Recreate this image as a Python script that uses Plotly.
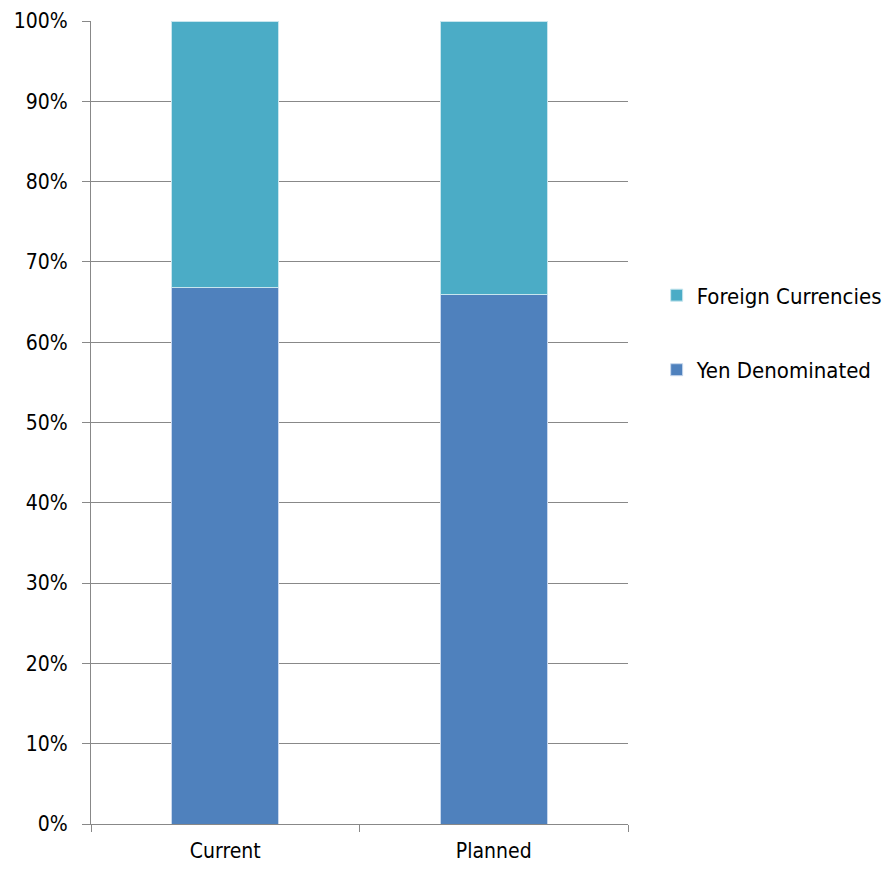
import plotly.graph_objects as go

categories = ["Current", "Planned"]
yen_denominated = [0.668, 0.660]
foreign_currencies = [0.332, 0.340]
y_ticks = [i / 10 for i in range(11)]
y_tick_labels = [f"{i * 10}%" for i in range(11)]

FONT = "DejaVu Sans Condensed, Liberation Sans Narrow, Arial Narrow, sans-serif"

fig = go.Figure()
fig.add_trace(go.Bar(
    x=categories, y=yen_denominated, name="Yen Denominated",
    marker=dict(color="#4F81BD", line=dict(color="#C8D8EE", width=1)),
    legendgroup="yen", legendrank=2, width=0.4,
))
fig.add_trace(go.Bar(
    x=categories, y=foreign_currencies, name="Foreign Currencies",
    marker=dict(color="#4BACC6", line=dict(color="#C8E6EE", width=1)),
    legendgroup="foreign", legendrank=1, width=0.4,
))

fig.update_layout(
    barmode="stack",
    width=885, height=869,
    margin=dict(l=91, r=257, t=21, b=45),
    plot_bgcolor="white", paper_bgcolor="white",
    font=dict(family=FONT, size=21, color="#000000"),
    showlegend=True,
    legend=dict(
        xref="container", yref="container",
        x=0.742, xanchor="left", y=0.617, yanchor="middle",
        traceorder="grouped", tracegroupgap=43,
        font=dict(family=FONT, size=22, color="#000000"),
        itemwidth=30,
    ),
    xaxis=dict(
        type="category", tickson="boundaries", ticks="outside", ticklen=7,
        tickcolor="#888888", showline=True, linecolor="#888888", linewidth=1,
        showgrid=False, tickfont=dict(family=FONT, size=21), automargin=False,
        ticklabelstandoff=8,
    ),
    yaxis=dict(
        range=[0, 1], tickvals=y_ticks, ticktext=y_tick_labels,
        ticks="outside", ticklen=8, tickcolor="#888888",
        showline=True, linecolor="#888888", linewidth=1,
        showgrid=True, gridcolor="#888888", gridwidth=1,
        zeroline=False, tickfont=dict(family=FONT, size=21), automargin=False,
        ticklabelstandoff=10,
    ),
)

fig.write_html("out.html")
